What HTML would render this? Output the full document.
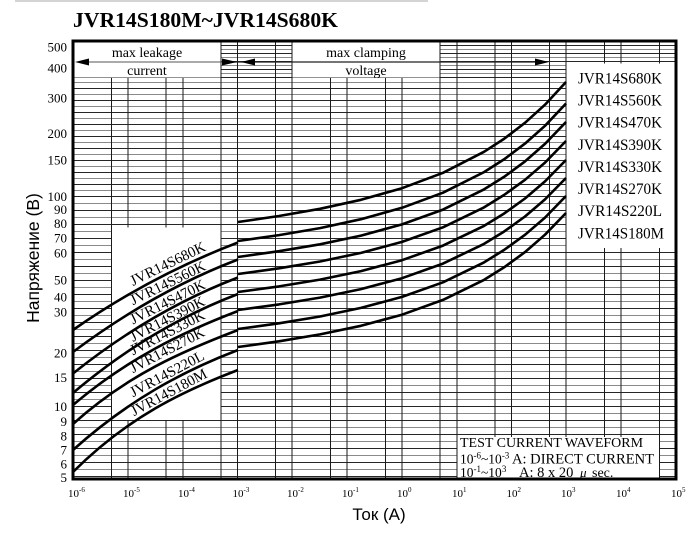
<!DOCTYPE html>
<html><head><meta charset="utf-8"><style>html,body{margin:0;padding:0;background:#fff;}svg{display:block}</style></head>
<body>
<svg width="700" height="543" viewBox="0 0 700 543" xmlns="http://www.w3.org/2000/svg" font-family="'Liberation Serif', serif">
<rect x="0" y="0" width="700" height="543" fill="#fff"/>
<rect x="15" y="0" width="413" height="2" fill="#d4d4d4"/>
<text x="73" y="27" font-size="21" font-weight="bold" textLength="265" lengthAdjust="spacingAndGlyphs">JVR14S180M~JVR14S680K</text>

<!-- horizontal grid -->
<path fill="none" stroke="#262626" stroke-width="1" d="M73 45.5H676M73 53.5H676M73 61.5H676M73 69.5H676M73 77.5H676M73 88.5H676M73 100.5H676M73 112.5H676M73 124.5H676M73 136.5H676M73 148.5H676M73 160.5H676M73 172.5H676M73 184.5H676M73 196.5H676M73 210.5H676M73 224.5H676M73 238.5H676M73 252.5H676M73 266.5H676M73 280.5H676M73 294.5H676M73 308.5H676M73 322.5H676M73 336.5H676M73 350.5H676M73 364.5H676M73 378.5H676M73 392.5H676M73 406.5H676M73 420.5H676M73 434.5H676M73 448.5H676M73 462.5H676M73 476.5H676"/>
<path fill="none" stroke="#8a8a8a" stroke-width="1" d="M73 49.5H676M73 57.5H676M73 65.5H676M73 73.5H676M73 82.5H676M73 94.5H676M73 106.5H676M73 118.5H676M73 130.5H676M73 142.5H676M73 154.5H676M73 166.5H676M73 178.5H676M73 190.5H676M73 203.5H676M73 217.5H676M73 231.5H676M73 245.5H676M73 259.5H676M73 273.5H676M73 287.5H676M73 301.5H676M73 315.5H676M73 329.5H676M73 343.5H676M73 357.5H676M73 371.5H676M73 385.5H676M73 399.5H676M73 413.5H676M73 427.5H676M73 441.5H676M73 455.5H676M73 469.5H676"/>
<!-- vertical grid -->
<path fill="none" stroke="#1a1a1a" stroke-width="1" d="M128 41V479M183 41V479M237.5 41V479M292 41V479M347 41V479M402 41V479M457 41V479M511.5 41V479M566 41V479M621 41V479M111.5 41V479M166 41V479M221 41V479M275.5 41V479M330.5 41V479M385.5 41V479M440 41V479M495 41V479M549.5 41V479M604.5 41V479M659.5 41V479"/>

<!-- white boxes -->
<rect x="74" y="42" width="146.5" height="35.5" fill="#fff"/>
<rect x="292.5" y="42" width="147" height="35.5" fill="#fff"/>
<rect x="566.5" y="63.5" width="108.5" height="184.5" fill="#fff"/>
<rect x="112" y="227.5" width="108.5" height="192.5" fill="#fff"/>
<rect x="457.5" y="437" width="201.5" height="42" fill="#fff"/>

<!-- top annotations -->
<text x="147" y="57" font-size="14" text-anchor="middle">max leakage</text>
<text x="147" y="75" font-size="14" text-anchor="middle">current</text>
<text x="366" y="57" font-size="14" text-anchor="middle">max clamping</text>
<text x="366" y="75" font-size="14" text-anchor="middle">voltage</text>
<line x1="85" y1="62" x2="222" y2="62" stroke="#555" stroke-width="1"/>
<line x1="222" y1="62" x2="537" y2="62" stroke="#222" stroke-width="1.2"/>
<polygon points="75,62 89,58.5 89,65.5" fill="#000"/>
<polygon points="237,62 222,58.5 222,65.5" fill="#000"/>
<polygon points="241,62 255,58.5 255,65.5" fill="#000"/>
<polygon points="549,62 535,58.5 535,65.5" fill="#000"/>

<!-- legend -->
<g font-size="16">
<text x="578" y="83.3" textLength="84" lengthAdjust="spacingAndGlyphs">JVR14S680K</text>
<text x="578" y="105.5" textLength="84" lengthAdjust="spacingAndGlyphs">JVR14S560K</text>
<text x="578" y="127.6" textLength="84" lengthAdjust="spacingAndGlyphs">JVR14S470K</text>
<text x="578" y="149.8" textLength="84" lengthAdjust="spacingAndGlyphs">JVR14S390K</text>
<text x="578" y="171.9" textLength="84" lengthAdjust="spacingAndGlyphs">JVR14S330K</text>
<text x="578" y="194.1" textLength="84" lengthAdjust="spacingAndGlyphs">JVR14S270K</text>
<text x="578" y="216.2" textLength="84" lengthAdjust="spacingAndGlyphs">JVR14S220L</text>
<text x="578" y="238.4" textLength="86" lengthAdjust="spacingAndGlyphs">JVR14S180M</text>
</g>

<!-- test box text -->
<text x="460" y="447" font-size="14" textLength="183" lengthAdjust="spacingAndGlyphs">TEST CURRENT WAVEFORM</text>
<text x="460" y="463.5" font-size="13.5">10<tspan font-size="9" dy="-5">-6</tspan><tspan dy="5">~10</tspan><tspan font-size="9" dy="-5">-3</tspan></text>
<text x="512" y="463.5" font-size="14.5" textLength="142" lengthAdjust="spacingAndGlyphs">A: DIRECT CURRENT</text>
<text x="460" y="477" font-size="13.5">10<tspan font-size="9" dy="-5">-1</tspan><tspan dy="5">~10</tspan><tspan font-size="9" dy="-5">3</tspan></text>
<text x="519" y="477" font-size="14.5">A: 8 x 20</text>
<text x="580" y="477" font-size="13" font-style="italic">μ</text>
<text x="592" y="477" font-size="14">sec.</text>

<!-- curves -->
<g fill="none" stroke="#000" stroke-width="2.6" stroke-linejoin="round">
<path d="M73,330 C128,291.5 183,263.5 238,242.5"/>
<path d="M73,352 C128,310.75 183,280.5 238,259.5"/>
<path d="M73,373.5 C128,329.5 183,298.5 238,277.5"/>
<path d="M73,393 C128,346.25 183,315 238,294"/>
<path d="M73,405 C128,358.25 183,332 238,311"/>
<path d="M73,424 C128,374.5 183,351 238,330"/>
<path d="M73,450 C128,400.5 183,371 238,350"/>
<path d="M73,472 C128,417 183,391 238,370"/>
<polyline points="238,222 279,216 320,208.8 361,199.8 402,188.2 443,172.8 484,151.8 504,138.9 525,122.8 545,104.7 566,82"/>
<polyline points="238,241 279,235.1 320,228.1 361,219.2 402,207.8 443,192.7 484,172.1 504,159.4 525,143.6 545,125.8 566,103.5"/>
<polyline points="238,257 279,251.2 320,244.3 361,235.6 402,224.4 443,209.6 484,189.4 504,176.9 525,161.4 545,143.9 566,122"/>
<polyline points="238,274 279,268.3 320,261.5 361,252.9 402,241.9 443,227.3 484,207.4 504,195 525,179.8 545,162.6 566,141"/>
<polyline points="238,292 279,286.4 320,279.6 361,271.1 402,260.2 443,245.6 484,225.9 504,213.6 525,198.5 545,181.4 566,160"/>
<polyline points="238,310 279,304.4 320,297.6 361,289.1 402,278.2 443,263.6 484,243.9 504,231.6 525,216.5 545,199.4 566,178"/>
<polyline points="238,329 279,323.3 320,316.5 361,307.9 402,296.9 443,282.3 484,262.4 504,250 525,234.8 545,217.6 566,196"/>
<polyline points="238,347 279,341.3 320,334.4 361,325.8 402,314.7 443,299.9 484,279.9 504,267.4 525,252.1 545,234.7 566,213"/>
</g>

<!-- rotated curve labels -->
<g font-size="15">
<text transform="translate(133,286) rotate(-26)" textLength="82" lengthAdjust="spacingAndGlyphs">JVR14S680K</text>
<text transform="translate(133,305.3) rotate(-26)" textLength="82" lengthAdjust="spacingAndGlyphs">JVR14S560K</text>
<text transform="translate(133,324.5) rotate(-26.5)" textLength="82" lengthAdjust="spacingAndGlyphs">JVR14S470K</text>
<text transform="translate(133,341.9) rotate(-27)" textLength="82" lengthAdjust="spacingAndGlyphs">JVR14S390K</text>
<text transform="translate(133,355.4) rotate(-27)" textLength="82" lengthAdjust="spacingAndGlyphs">JVR14S330K</text>
<text transform="translate(133,373.2) rotate(-27.5)" textLength="82" lengthAdjust="spacingAndGlyphs">JVR14S270K</text>
<text transform="translate(133,397.4) rotate(-28)" textLength="82" lengthAdjust="spacingAndGlyphs">JVR14S220L</text>
<text transform="translate(134,416.3) rotate(-28)" textLength="84" lengthAdjust="spacingAndGlyphs">JVR14S180M</text>
</g>

<!-- frame -->
<rect x="73" y="41" width="603" height="438" fill="none" stroke="#000" stroke-width="3"/>

<!-- y tick labels -->
<g font-size="13" text-anchor="end">
<text x="67" y="51.5">500</text>
<text x="67" y="72.5">400</text>
<text x="67" y="102.5">300</text>
<text x="67" y="138">200</text>
<text x="67" y="164.5">150</text>
<text x="67" y="201">100</text>
<text x="67" y="214">90</text>
<text x="67" y="228">80</text>
<text x="67" y="242.5">70</text>
<text x="67" y="257.5">60</text>
<text x="67" y="284.5">50</text>
<text x="67" y="301.5">40</text>
<text x="67" y="316.5">30</text>
<text x="67" y="357.5">20</text>
<text x="67" y="382">15</text>
<text x="67" y="411">10</text>
<text x="67" y="426">9</text>
<text x="67" y="440.5">8</text>
<text x="67" y="454.5">7</text>
<text x="67" y="468.5">6</text>
<text x="67" y="482">5</text>
</g>

<!-- x tick labels -->
<g font-size="11">
<text x="68" y="497">10<tspan font-size="7" dy="-5">-6</tspan></text>
<text x="123" y="497">10<tspan font-size="7" dy="-5">-5</tspan></text>
<text x="178" y="497">10<tspan font-size="7" dy="-5">-4</tspan></text>
<text x="232.5" y="497">10<tspan font-size="7" dy="-5">-3</tspan></text>
<text x="287" y="497">10<tspan font-size="7" dy="-5">-2</tspan></text>
<text x="342" y="497">10<tspan font-size="7" dy="-5">-1</tspan></text>
<text x="397" y="497">10<tspan font-size="7" dy="-5">0</tspan></text>
<text x="452" y="497">10<tspan font-size="7" dy="-5">1</tspan></text>
<text x="506.5" y="497">10<tspan font-size="7" dy="-5">2</tspan></text>
<text x="561" y="497">10<tspan font-size="7" dy="-5">3</tspan></text>
<text x="616" y="497">10<tspan font-size="7" dy="-5">4</tspan></text>
<text x="671" y="497">10<tspan font-size="7" dy="-5">5</tspan></text>
</g>

<!-- axis titles -->
<text transform="translate(39,258) rotate(-90)" text-anchor="middle" font-family="'Liberation Sans', sans-serif" font-size="17.5">Напряжение (В)</text>
<text x="379" y="520" text-anchor="middle" font-family="'Liberation Sans', sans-serif" font-size="17">Ток (А)</text>
</svg>
</body></html>
